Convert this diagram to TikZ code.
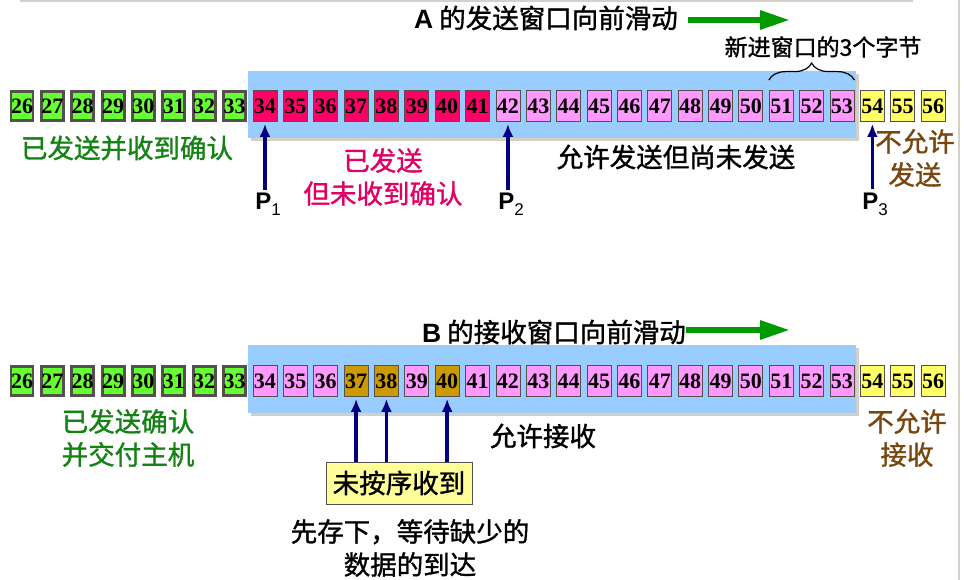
\documentclass[tikz,border=0pt]{standalone}
\usepackage{fontspec}
\setmainfont{Liberation Sans}
\newfontfamily\cjk{Noto Sans CJK SC}[FakeBold=1.2]
\newfontfamily\numfont{Liberation Serif}
\usetikzlibrary{arrows.meta,decorations.pathreplacing}

\definecolor{ackgreen}{RGB}{102,255,51}
\definecolor{sentred}{RGB}{255,0,102}
\definecolor{usepink}{RGB}{255,153,255}
\definecolor{heldgold}{RGB}{204,153,0}
\definecolor{barredyellow}{RGB}{255,255,102}
\definecolor{notebox}{RGB}{255,255,153}
\definecolor{winblue}{RGB}{153,204,255}
\definecolor{winshade}{RGB}{212,208,200}
\definecolor{boxgray}{RGB}{85,80,75}
\definecolor{ptrblue}{RGB}{0,0,128}
\definecolor{slidegreen}{RGB}{0,153,0}
\definecolor{txtgreen}{RGB}{20,130,20}
\definecolor{txtred}{RGB}{225,0,100}
\definecolor{txtbrown}{RGB}{120,70,15}

\newcommand{\psub}[1]{P\raisebox{-6pt}{\mdseries\fontsize{17}{17}\selectfont #1}}

\begin{document}
\begin{tikzpicture}[
        x=1pt, y=-1pt,
        seq/.style={draw=boxgray, line width=0.8pt, minimum width=24pt, minimum height=31pt,
            inner sep=0pt, font=\numfont\bfseries\fontsize{22}{22}\selectfont},
        acked/.style={seq, fill=ackgreen, line width=2.8pt, minimum width=22pt, minimum height=29pt},
        sent/.style={seq, fill=sentred},
        usable/.style={seq, fill=usepink},
        held/.style={seq, fill=heldgold},
        barred/.style={seq, fill=barredyellow},
        lbl/.style={font=\cjk\fontsize{26.5}{33}\selectfont, align=center, inner sep=0pt},
        plabel/.style={font=\bfseries\fontsize{24}{24}\selectfont, inner sep=3pt},
        ptr/.style={draw=ptrblue, line width=3.5pt, -{Latex[length=13pt,width=11pt]}, shorten >=2pt},
        slide/.style={draw=slidegreen, line width=6pt, -{Triangle[length=30pt,width=18pt]}}
    ]
    \useasboundingbox (0,0) rectangle (964,580);
    \draw[winshade, line width=2pt] (20,1) -- (913,1);
    \draw[winshade, line width=2pt] (959,0) -- (959,580);

    % sending window of A
    \fill[winshade] (251,74) rectangle (859,141);
    \fill[winblue] (248,71) rectangle (856,138);
    \foreach \n in {26,...,33}
        \node[acked] (a\n) at ({22+30.37*(\n-26)},106) {\n};
    \foreach \n in {34,...,41}
        \node[sent] (a\n) at ({22+30.37*(\n-26)},106) {\n};
    \foreach \n in {42,...,53}
        \node[usable] (a\n) at ({22+30.37*(\n-26)},106) {\n};
    \foreach \n in {54,...,56}
        \node[barred] (a\n) at ({22+30.37*(\n-26)},106) {\n};

    \node[lbl] (titleA) at (546,18) {{\normalfont\bfseries A} 的发送窗口向前滑动};
    \coordinate (endA) at (790,20);
    \draw[slide] ([xshift=10pt]titleA.east |- endA) -- (endA);

    \node[lbl, font=\cjk\fontsize{23}{26}\selectfont] (newbytes) at (823,47) {新进窗口的3个字节};
    \draw[decorate, decoration={brace, amplitude=17pt}, line width=1.2pt]
        ([yshift=10pt]a51.north west) -- ([yshift=10pt]a53.north east);

    \node[lbl, text=txtgreen] (doneA) at (127,148) {已发送并收到确认};
    \node[lbl, text=txtred] (waitA) at (383,177) {已发送\\但未收到确认};
    \node[lbl] (freeA) at (676,157) {允许发送但尚未发送};
    \node[lbl, text=txtbrown] (nosendA) at (915,158) {不允许\\发送};

    \node[plabel] (p1) at (268,204) {\psub{1}};
    \node[plabel] (p2) at (511,204) {\psub{2}};
    \node[plabel] (p3) at (875,204) {\psub{3}};
    \draw[ptr] (p1.north -| a34.south) -- (a34.south);
    \draw[ptr] (p2.north -| a42.south) -- (a42.south);
    \draw[ptr] (p3.north -| a54.south) -- (a54.south);

    % receiving window of B
    \fill[winshade] (251,348) rectangle (859,416);
    \fill[winblue] (248,345) rectangle (856,413);
    \foreach \n in {26,...,33}
        \node[acked] (b\n) at ({22+30.37*(\n-26)},381) {\n};
    \foreach \n in {34,...,53} {
        \ifnum\n=37 \def\kind{held}\else\ifnum\n=38 \def\kind{held}\else
            \ifnum\n=40 \def\kind{held}\else\def\kind{usable}\fi\fi\fi
        \node[\kind] (b\n) at ({22+30.37*(\n-26)},381) {\n};
    }
    \foreach \n in {54,...,56}
        \node[barred] (b\n) at ({22+30.37*(\n-26)},381) {\n};

    \node[lbl] (titleB) at (554,332) {{\normalfont\bfseries B} 的接收窗口向前滑动};
    \coordinate (endB) at (790,330);
    \draw[slide] (titleB.east |- endB) -- (endB);

    \node[lbl, text=txtgreen] (doneB) at (128,438) {已发送确认\\并交付主机};
    \node[lbl] (freeB) at (543,436) {允许接收};
    \node[lbl, text=txtbrown] (norecvB) at (907,438) {不允许\\接收};

    \node[lbl, draw=boxgray, line width=0.8pt, fill=notebox, minimum width=146pt,
        minimum height=42pt] (outoforder) at (399,483) {未按序收到};
    \foreach \n in {37,38,40}
        \draw[ptr] (b\n.south |- outoforder.north) -- (b\n.south);
    \node[lbl] (store) at (410,548) {先存下，等待缺少的\\数据的到达};
\end{tikzpicture}
\end{document}
